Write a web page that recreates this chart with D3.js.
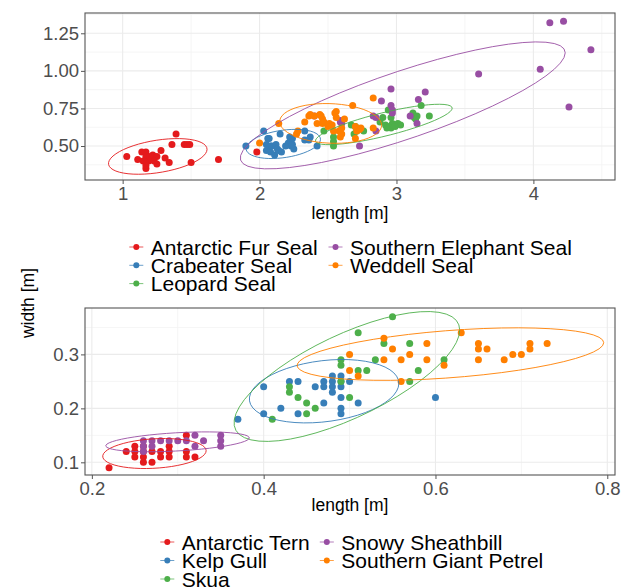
<!DOCTYPE html>
<html>
<head>
<meta charset="utf-8">
<script src="https://cdn.jsdelivr.net/npm/d3@7"></script>
<style>
  body { margin: 0; background: #fff; }
  svg { display: block; font-family: 'Liberation Sans', Arial, sans-serif; }
</style>
</head>
<body>
<svg id="chart" width="628" height="587"></svg>
<script>
'use strict';

// Set1 colours, in factor order
const palette = ['#E41A1C', '#377EB8', '#4DAF4A', '#984EA3', '#FF7F00'];

// ---- seals: [length, width] in metres ----
const sealSpecies = ['Antarctic Fur Seal', 'Crabeater Seal', 'Leopard Seal', 'Southern Elephant Seal', 'Weddell Seal'];
const furSeal = [[1.03,0.43],[1.11,0.41],[1.14,0.46],[1.17,0.46],[1.17,0.43],[1.19,0.40],[1.17,0.35],[1.20,0.43],
  [1.21,0.41],[1.22,0.44],[1.25,0.43],[1.25,0.38],[1.28,0.47],[1.31,0.42],[1.34,0.39],[1.36,0.51],[1.39,0.58],
  [1.45,0.51],[1.47,0.51],[1.49,0.51],[1.50,0.39],[1.70,0.41],[1.98,0.46],[1.15,0.40],[1.17,0.37],[1.23,0.40]];
const crabeater = [[1.90,0.50],[2.03,0.60],[2.06,0.55],[2.05,0.51],[2.08,0.50],[2.05,0.47],[2.08,0.46],[2.11,0.44],
  [2.09,0.50],[2.12,0.51],[2.13,0.48],[2.14,0.47],[2.21,0.52],[2.22,0.56],[2.23,0.54],[2.24,0.55],[2.23,0.50],
  [2.19,0.50],[2.25,0.48],[2.24,0.51],[2.33,0.60],[2.33,0.54],[2.36,0.54],[2.37,0.56],[2.42,0.50],[2.16,0.46],
  [2.15,0.58],[2.07,0.55]];
const leopard = [[2.47,0.60],[2.54,0.56],[2.54,0.53],[2.54,0.50],[2.67,0.64],[2.69,0.58],[2.70,0.63],[2.71,0.60],
  [2.76,0.60],[2.88,0.66],[2.90,0.69],[2.94,0.74],[2.92,0.64],[2.95,0.63],[2.96,0.69],[2.97,0.65],[3.01,0.65],
  [3.03,0.64],[2.96,0.62],[2.93,0.62],[3.12,0.72],[3.13,0.69],[3.15,0.70],[3.14,0.68],[3.18,0.77],[3.24,0.70],
  [2.99,0.63]];
const elephant = [[4.12,1.32],[4.22,1.33],[4.42,1.14],[4.05,1.01],[4.26,0.76],[3.60,0.98],[2.96,0.88],[3.21,0.86],
  [2.89,0.80],[3.16,0.81],[2.96,0.77],[2.97,0.74],[2.97,0.72],[2.83,0.70],[2.85,0.69],[3.10,0.70],[3.15,0.65],
  [2.85,0.60],[2.73,0.50],[2.59,0.67],[2.60,0.65],[2.40,0.70],[2.59,0.66]];
const weddell = [[2.00,0.52],[2.14,0.65],[2.28,0.60],[2.27,0.58],[2.33,0.66],[2.36,0.70],[2.40,0.70],[2.42,0.65],
  [2.45,0.70],[2.46,0.68],[2.46,0.65],[2.47,0.66],[2.50,0.63],[2.51,0.65],[2.53,0.64],[2.55,0.72],[2.56,0.69],
  [2.54,0.60],[2.58,0.60],[2.60,0.58],[2.60,0.62],[2.68,0.77],[2.70,0.63],[2.71,0.60],[2.73,0.61],[2.74,0.62],
  [2.70,0.55],[2.83,0.62],[2.83,0.82],[2.59,0.56],[2.37,0.71],[2.44,0.71],[2.56,0.73],[2.62,0.68]];
const sealTicksX = [1, 2, 3, 4];
const sealTicksY = [0.5, 0.75, 1.0, 1.25];
const sealMinorX = [1.5, 2.5, 3.5, 4.5];
const sealMinorY = [0.375, 0.625, 0.875, 1.125, 1.375];

// ---- birds: [length, width] in metres ----
const birdSpecies = ['Antarctic Tern', 'Kelp Gull', 'Skua', 'Snowy Sheathbill', 'Southern Giant Petrel'];
const tern = [[0.22,0.09],[0.24,0.12],[0.25,0.13],[0.25,0.12],[0.25,0.11],[0.26,0.13],[0.26,0.12],[0.26,0.11],
  [0.26,0.10],[0.27,0.12],[0.27,0.10],[0.28,0.12],[0.28,0.11],[0.29,0.13],[0.29,0.12],[0.29,0.11],[0.31,0.15],
  [0.31,0.12],[0.31,0.11],[0.32,0.11]];
const kelpGull = [[0.37,0.18],[0.40,0.24],[0.40,0.19],[0.42,0.20],[0.43,0.25],[0.44,0.25],[0.44,0.19],[0.46,0.24],
  [0.47,0.25],[0.47,0.24],[0.47,0.21],[0.48,0.26],[0.48,0.25],[0.48,0.24],[0.48,0.23],[0.49,0.26],[0.49,0.25],
  [0.49,0.24],[0.49,0.22],[0.49,0.20],[0.49,0.19],[0.50,0.25],[0.51,0.21],[0.60,0.22]];
const skua = [[0.41,0.18],[0.43,0.24],[0.43,0.23],[0.44,0.22],[0.45,0.21],[0.45,0.19],[0.46,0.20],[0.49,0.29],
  [0.49,0.28],[0.50,0.22],[0.51,0.34],[0.51,0.27],[0.52,0.27],[0.53,0.29],[0.54,0.32],[0.55,0.37],[0.57,0.32],
  [0.58,0.27],[0.57,0.25],[0.61,0.29],[0.49,0.25]];
const sheathbill = [[0.26,0.14],[0.26,0.13],[0.27,0.14],[0.27,0.13],[0.28,0.14],[0.29,0.14],[0.30,0.14],[0.31,0.14],
  [0.32,0.15],[0.32,0.13],[0.33,0.14],[0.35,0.15],[0.35,0.14],[0.35,0.13],[0.26,0.12]];
const petrel = [[0.50,0.30],[0.50,0.27],[0.51,0.26],[0.54,0.33],[0.55,0.31],[0.54,0.29],[0.56,0.29],[0.57,0.30],
  [0.59,0.32],[0.59,0.29],[0.61,0.28],[0.56,0.25],[0.63,0.34],[0.65,0.32],[0.65,0.31],[0.66,0.31],[0.65,0.29],
  [0.68,0.29],[0.69,0.30],[0.70,0.30],[0.71,0.32],[0.71,0.31],[0.73,0.32]];
const birdTicksX = [0.2, 0.4, 0.6, 0.8];
const birdTicksY = [0.1, 0.2, 0.3];
const birdMinorX = [0.3, 0.5, 0.7];
const birdMinorY = [0.15, 0.25, 0.35];

const svg = d3.select('#chart');

// Robust t-distribution centre/covariance (like MASS::cov.trob, nu = 5)
function covTrob(pts, nu = 5) {
  const n = pts.length;
  let w = pts.map(() => 1);
  let loc = [d3.mean(pts, d => d[0]), d3.mean(pts, d => d[1])];
  let X = [];
  for (let it = 0; it < 25; it++) {
    const w0 = w.slice(), sw = d3.sum(w);
    X = pts.map(d => [d[0] - loc[0], d[1] - loc[1]]);
    let a = 0, b = 0, c = 0;
    X.forEach((v, i) => { a += w[i] * v[0] * v[0]; b += w[i] * v[0] * v[1]; c += w[i] * v[1] * v[1]; });
    a /= sw; b /= sw; c /= sw;
    const det = a * c - b * b;
    w = X.map(v => {
      const q = (c * v[0] * v[0] - 2 * b * v[0] * v[1] + a * v[1] * v[1]) / det;
      return (nu + 2) / (nu + q);
    });
    const sw2 = d3.sum(w);
    loc = [d3.sum(pts, (d, i) => w[i] * d[0]) / sw2, d3.sum(pts, (d, i) => w[i] * d[1]) / sw2];
    if (w.every((v, i) => Math.abs(v - w0[i]) < 0.01)) break;
  }
  let a = 0, b = 0, c = 0;
  X.forEach((v, i) => { a += w[i] * v[0] * v[0]; b += w[i] * v[0] * v[1]; c += w[i] * v[1] * v[1]; });
  return { center: loc, cov: [a / n, b / n, c / n] };
}

// 95% ellipse the way stat_ellipse builds it
function ellipsePoints(pts) {
  const { center, cov } = covTrob(pts);
  const m = pts.length - 1;
  const fq = (m / 2) * (Math.pow(0.05, -2 / m) - 1);   // qf(0.95, 2, m)
  const r = Math.sqrt(2 * fq);
  const r11 = Math.sqrt(cov[0]), r12 = cov[1] / r11, r22 = Math.sqrt(cov[2] - r12 * r12);
  return d3.range(0, 52).map(i => {
    const t = (i / 51) * 2 * Math.PI;
    return [center[0] + r * Math.cos(t) * r11, center[1] + r * (Math.cos(t) * r12 + Math.sin(t) * r22)];
  });
}

function drawPanel(p) {
  const x = d3.scaleLinear(p.xDomain, [p.left, p.right]);
  const y = d3.scaleLinear(p.yDomain, [p.bottom, p.top]);
  const g = svg.append('g');

  g.append('rect').attr('x', p.left).attr('y', p.top)
    .attr('width', p.right - p.left).attr('height', p.bottom - p.top).attr('fill', '#fff');

  g.selectAll('.minor-x').data(p.minorX).enter().append('line')
    .attr('x1', x).attr('x2', x).attr('y1', p.top).attr('y2', p.bottom)
    .attr('stroke', '#F2F2F2').attr('stroke-width', 0.8);
  g.selectAll('.minor-y').data(p.minorY).enter().append('line')
    .attr('y1', y).attr('y2', y).attr('x1', p.left).attr('x2', p.right)
    .attr('stroke', '#F2F2F2').attr('stroke-width', 0.8);
  g.selectAll('.major-x').data(p.ticksX).enter().append('line')
    .attr('x1', x).attr('x2', x).attr('y1', p.top).attr('y2', p.bottom)
    .attr('stroke', '#EBEBEB').attr('stroke-width', 1.1);
  g.selectAll('.major-y').data(p.ticksY).enter().append('line')
    .attr('y1', y).attr('y2', y).attr('x1', p.left).attr('x2', p.right)
    .attr('stroke', '#EBEBEB').attr('stroke-width', 1.1);

  // points, group by group
  p.groups.forEach((pts, i) => {
    g.append('g').selectAll('circle').data(pts).enter().append('circle')
      .attr('cx', d => x(d[0])).attr('cy', d => y(d[1])).attr('r', 3.5)
      .attr('fill', palette[i]);
  });

  // ellipses
  const line = d3.line().x(d => x(d[0])).y(d => y(d[1]));
  p.groups.forEach((pts, i) => {
    g.append('path').attr('d', line(ellipsePoints(pts)))
      .attr('fill', 'none').attr('stroke', palette[i]).attr('stroke-width', 0.9);
  });

  g.append('rect').attr('x', p.left).attr('y', p.top)
    .attr('width', p.right - p.left).attr('height', p.bottom - p.top)
    .attr('fill', 'none').attr('stroke', '#555').attr('stroke-width', 1.1);

  // axes
  const xAxis = d3.axisBottom(x).tickValues(p.ticksX).tickFormat(p.fmtX).tickSize(4).tickPadding(3);
  const yAxis = d3.axisLeft(y).tickValues(p.ticksY).tickFormat(p.fmtY).tickSize(4).tickPadding(2);
  const ax = g.append('g').attr('transform', `translate(0,${p.bottom})`).call(xAxis);
  const ay = g.append('g').attr('transform', `translate(${p.left},0)`).call(yAxis);
  [ax, ay].forEach(a => {
    a.select('.domain').remove();
    a.selectAll('.tick line').attr('stroke', '#555');
    a.selectAll('.tick text').attr('fill', '#4D4D4D').style('font-size', '18.5px')
      .style('font-family', "'Liberation Sans', Arial, sans-serif");
  });

  g.append('text').attr('x', (p.left + p.right) / 2).attr('y', p.titleY)
    .attr('text-anchor', 'middle').style('font-size', '17.5px').text('length [m]');

  // legend: 3 rows, filled column by column
  const lg = g.append('g');
  p.species.forEach((name, i) => {
    const col = Math.floor(i / 3), row = i % 3;
    const kx = p.legendX[col], ky = p.legendY[row];
    lg.append('line').attr('x1', kx - 7).attr('x2', kx + 7).attr('y1', ky).attr('y2', ky)
      .attr('stroke', palette[i]).attr('stroke-width', 0.9).attr('opacity', 0.8);
    lg.append('circle').attr('cx', kx).attr('cy', ky).attr('r', 3).attr('fill', palette[i]);
    lg.append('text').attr('x', kx + 14.5).attr('y', ky).attr('dy', '0.36em')
      .style('font-size', '21px').text(name);
  });
}

drawPanel({
  left: 85, right: 615, top: 13, bottom: 180,
  xDomain: [0.725, 4.596], yDomain: [0.274, 1.385],
  ticksX: sealTicksX, ticksY: sealTicksY, minorX: sealMinorX, minorY: sealMinorY,
  fmtX: d3.format('d'), fmtY: d3.format('.2f'),
  groups: [furSeal, crabeater, leopard, elephant, weddell], species: sealSpecies,
  titleY: 219, legendX: [136.3, 335.5], legendY: [247, 265.3, 283.6]
});

drawPanel({
  left: 85, right: 615, top: 308, bottom: 475,
  xDomain: [0.192, 0.809], yDomain: [0.0765, 0.386],
  ticksX: birdTicksX, ticksY: birdTicksY, minorX: birdMinorX, minorY: birdMinorY,
  fmtX: d3.format('.1f'), fmtY: d3.format('.1f'),
  groups: [tern, kelpGull, skua, sheathbill, petrel], species: birdSpecies,
  titleY: 511, legendX: [167.3, 326.8], legendY: [542, 560.5, 579]
});

svg.append('text').attr('transform', 'translate(28,303) rotate(-90)')
  .attr('text-anchor', 'middle').attr('dy', '0.35em').style('font-size', '17.5px').text('width [m]');
</script>
</body>
</html>
